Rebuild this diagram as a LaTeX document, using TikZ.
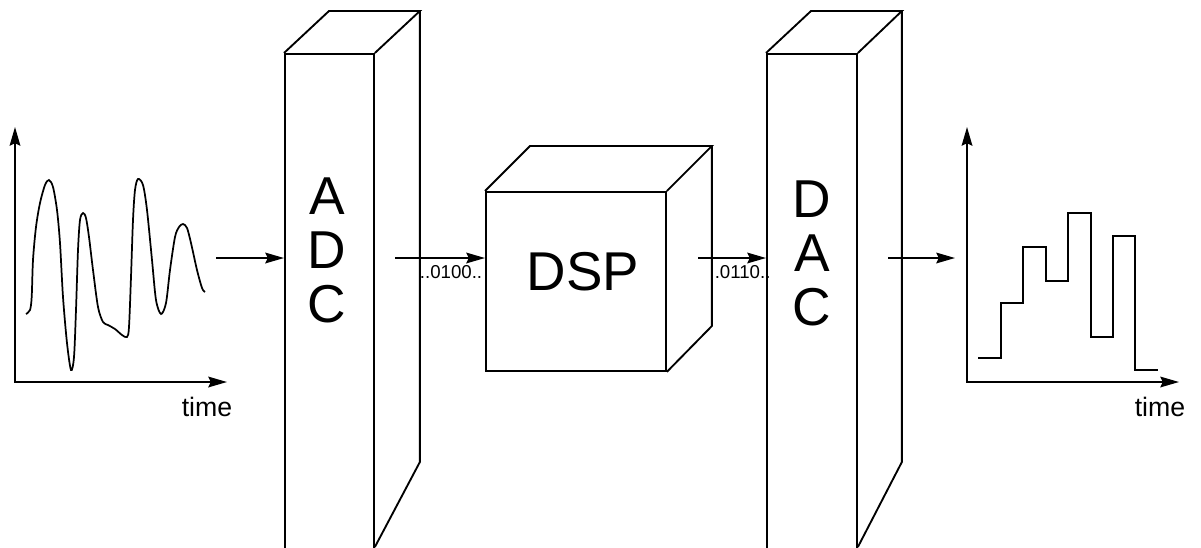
\documentclass[tikz,border=0pt]{standalone}
\usepackage{fontspec}
\setmainfont{Liberation Sans}
\usetikzlibrary{arrows.meta,calc}

\begin{document}
\begin{tikzpicture}[x=0.75pt,y=-0.75pt, line width=1.4pt, line join=miter,
  face/.style={draw, fill=white, inner sep=0pt, anchor=north west},
  tip/.tip={Stealth[length=14pt,width=8pt,inset=1.8pt]},
  arr/.style={-tip},
  tall/.style={font=\fontsize{40}{40.5}\selectfont, align=center, inner sep=0pt},
  bits/.style={font=\fontsize{14}{16}\selectfont, inner sep=0pt},
  axlabel/.style={font=\fontsize{20}{24}\selectfont, inner sep=0pt}]

\useasboundingbox (0,0) rectangle (1201,547);
\clip (0,0) rectangle (1201,547);
\coordinate (bot) at (0,547);

% ---- input signal ----
\draw[tip-tip] (15,127) -- (15,382) coordinate (o1) -- (227,382);
\node[axlabel] (t1) at (207,407) {time};
\draw[line width=1.3pt] plot[smooth, tension=0.5] coordinates {
  (26,314) (30,310) (31.7,297) (33,260) (36,227) (40,203) (45,185) (49,180)
  (53,187) (57,210) (60,243) (63,297) (67,343) (71,370) (74,357) (76,310)
  (78,250) (80,220) (83,213) (86,218) (89,237) (93,270) (98,307) (103,322)
  (108,325) (115,329) (122,335) (127,337) (129,327) (131,277) (133,220)
  (135,190) (138,179) (143,185) (147,210) (152,260) (156,300) (161,314)
  (166,303) (170,270) (175,237) (179,227) (183,224) (187,228) (191,243)
  (197,270) (202,288) (205,292)};

% ---- ADC block ----
\node[face, minimum width=66.75pt, minimum height=380pt] (adc) at (284,53) {};
\path (adc.north east) ++(45,-42) coordinate (adcTR);
\draw (adc.north west) -- ++(45,-42) -- (adcTR) -- (adc.north east);
\draw (adcTR) -- ++(0,451) -- (adc.east |- bot);
\node[tall] (adctxt) at (327,250) {A\\D\\C};

% ---- DSP block ----
\node[face, minimum width=135pt, minimum height=134.25pt] (dsp) at (485,191) {};
\path (dsp.north east) ++(45,-45) coordinate (dspTR);
\draw (dsp.north west) -- ++(45,-45) -- (dspTR) -- (dsp.north east);
\draw (dspTR) -- ++(0,180) -- (dsp.south east);
\node[font=\fontsize{41}{41}\selectfont, inner sep=0pt] (dsptxt) at (583,272) {DSP};

% ---- DAC block ----
\node[face, minimum width=67.5pt, minimum height=380pt] (dac) at (766,53) {};
\path (dac.north east) ++(44,-42) coordinate (dacTR);
\draw (dac.north west) -- ++(45,-42) -- (dacTR) -- (dac.north east);
\draw (dacTR) -- ++(0,451) -- (dac.east |- bot);
\node[tall] (dactxt) at (812,253) {D\\A\\C};

% ---- signal flow ----
\coordinate (win) at (216,258);
\draw[arr] (win) -- (win -| adc.west);
\coordinate (adcout) at (395,258);
\draw[arr] (adcout) -- (adcout -| dsp.west);
\node[bits] (b1) at (451,272) {..0100..};
\coordinate (dspout) at (698,258);
\draw[arr] (dspout) -- (dspout -| dac.west);
\node[bits] (b2) at (740,272) {..0110..};
\coordinate (dacout) at (888,258);
\coordinate (wout) at (955,258);
\draw[arr] (dacout) -- (wout);

% ---- output signal ----
\draw[tip-tip] (967,127) -- (967,382) coordinate (o2) -- (1179,382);
\node[axlabel] (t2) at (1160,407) {time};
\draw (978,358) -| (1001,303) -| (1023,247) -| (1046,281) -| (1068,213)
  -| (1091,337) -| (1113,236) -| (1135,370) -- (1158,370);
\end{tikzpicture}
\end{document}
